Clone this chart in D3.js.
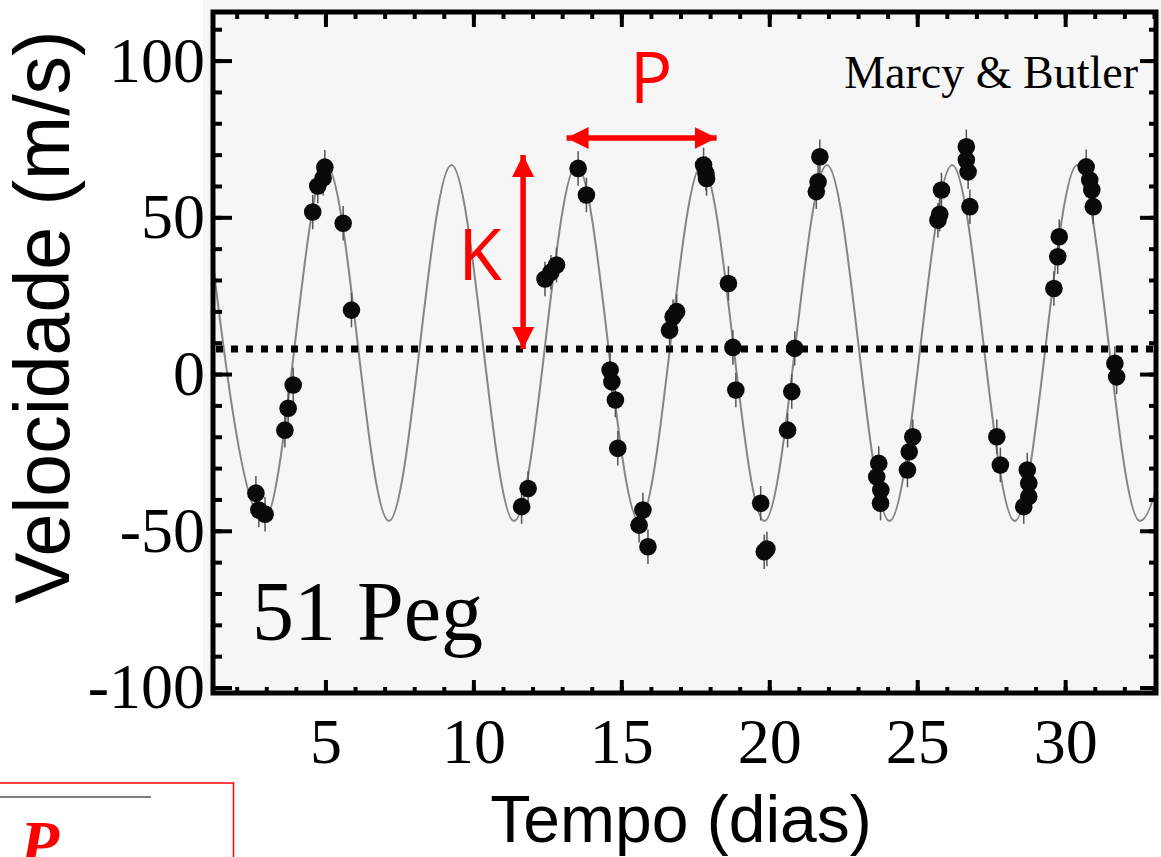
<!DOCTYPE html>
<html>
<head>
<meta charset="utf-8">
<script src="https://cdn.jsdelivr.net/npm/d3@7"></script>
<style>
  html, body { margin: 0; padding: 0; background: #fff; }
  svg { display: block; }
</style>
</head>
<body>
<svg width="1161" height="857"></svg>
<script>
var timeDays = [2.65, 2.75, 2.96, 3.63, 3.74, 3.91, 4.57, 4.74, 4.92, 4.98, 5.60, 5.88,
    11.63, 11.85, 12.42, 12.62, 12.81, 13.54, 13.82,
    14.62, 14.68, 14.80, 14.88, 15.60, 15.73, 15.90, 16.63, 16.75, 16.87,
    17.78, 17.86, 17.88, 18.62, 18.77, 18.87, 19.71, 19.83, 19.92,
    20.62, 20.76, 20.86, 21.59, 21.65, 21.71,
    23.63, 23.70, 23.77, 23.76, 24.67, 24.73, 24.85, 25.70, 25.76, 25.82,
    26.66, 26.66, 26.72, 26.78, 27.69, 27.81,
    28.60, 28.72, 28.77, 28.77, 29.62, 29.75, 29.80,
    30.71, 30.83, 30.90, 30.95, 31.68, 31.74];
var velocity = [-38, -43.4, -44.7, -17.9, -10.9, -3.5, 51.7, 60.0, 62.5, 66.0, 48.1, 20.4,
    -42.3, -36.5, 30.3, 32.5, 34.8, 65.6, 57.1,
    1.3, -2.5, -8.3, -23.7, -48.2, -43.4, -55.1, 14.0, 18.3, 19.9,
    66.7, 64.0, 62.4, 28.9, 8.5, -5.1, -41.2, -56.7, -55.8,
    -17.9, -5.6, 8.2, 58.2, 61.3, 69.3,
    -32.8, -28.5, -37.0, -41.2, -30.6, -24.8, -20.0, 49.1, 51.0, 58.7,
    72.5, 68.3, 64.5, 53.4, -20.0, -29.0,
    -42.3, -30.6, -34.8, -39.1, 27.3, 37.4, 43.8,
    66.1, 61.9, 58.7, 53.4, 3.4, -0.9];
var errVel = 5.5;

// orbit fit: maxima and minima of the drawn curve
var fitTime = [0.80, 2.915, 5.03, 7.145, 9.26, 11.375, 13.49, 15.605, 17.72,
    19.835, 21.95, 24.065, 26.18, 28.295, 30.41, 32.525, 34.64];
var fitVel = [66.7, -46.9, 66.7, -46.9, 66.7, -46.9, 66.7, -46.9, 66.7,
    -46.9, 66.7, -46.9, 66.7, -46.9, 66.7, -46.9, 66.7];
var gammaVel = 8;

var xMajorTicks = [5, 10, 15, 20, 25, 30];
var xMinorTicks = d3.range(2, 34, 1);
var yMajorTicks = [-100, -50, 0, 50, 100];
var yMinorTicks = d3.range(-100, 111, 10);

// annotation arrows K and P (data units)
var kArrow = {t: 11.68, v0: gammaVel, v1: 69.9};
var pArrow = {v: 75.3, t0: 13.15, t1: 18.22};

var svg = d3.select("svg");

var x = d3.scaleLinear().domain([1.2, 33.07]).range([213, 1156]);
var y = d3.scaleLinear().domain([-101.75, 115.5]).range([693, 12]);

var x0 = x.range()[0], x1 = x.range()[1],
    yTop = y.range()[1], yBot = y.range()[0];

svg.append("rect")
    .attr("x", 203).attr("y", 0)
    .attr("width", 958).attr("height", 700)
    .attr("fill", "#f6f6f6");

var defs = svg.append("defs");
defs.append("clipPath").attr("id", "plotclip")
    .append("rect")
    .attr("x", x0).attr("y", yTop)
    .attr("width", x1 - x0).attr("height", yBot - yTop);

defs.append("marker")
    .attr("id", "redhead")
    .attr("viewBox", "0 -5 10 10")
    .attr("refX", 10).attr("refY", 0)
    .attr("markerUnits", "userSpaceOnUse")
    .attr("markerWidth", 22).attr("markerHeight", 22)
    .attr("orient", "auto-start-reverse")
    .append("path")
    .attr("d", "M0,-5 L10,0 L0,5 Z")
    .attr("fill", "#ff0000");

// fitted curve
var fitLine = d3.line()
    .x(function(d) { return x(d[0]); })
    .y(function(d) { return y(d[1]); })
    .curve(d3.curveMonotoneX);

svg.append("path")
    .datum(fitTime.map(function(t, i) { return [t, fitVel[i]]; }))
    .attr("clip-path", "url(#plotclip)")
    .attr("d", fitLine)
    .attr("fill", "none")
    .attr("stroke", "#858585")
    .attr("stroke-width", 2);

// systemic velocity
svg.append("line")
    .attr("x1", x0 + 3).attr("x2", x1)
    .attr("y1", y(gammaVel)).attr("y2", y(gammaVel))
    .attr("stroke", "#000")
    .attr("stroke-width", 7)
    .attr("stroke-dasharray", "7,8");

var obs = timeDays.map(function(t, i) { return {t: t, v: velocity[i]}; });

svg.append("g")
    .selectAll("line")
    .data(obs)
    .enter()
        .append("line")
        .attr("x1", function(d) { return x(d.t); })
        .attr("x2", function(d) { return x(d.t); })
        .attr("y1", function(d) { return y(d.v + errVel); })
        .attr("y2", function(d) { return y(d.v - errVel); })
        .attr("stroke", "#555")
        .attr("stroke-width", 1.5);

svg.append("g")
    .selectAll("circle")
    .data(obs)
    .enter()
        .append("circle")
        .attr("cx", function(d) { return x(d.t); })
        .attr("cy", function(d) { return y(d.v); })
        .attr("r", 8.8)
        .attr("fill", "#0a0a0a");

// frame with inward ticks on all four sides
function innerTicks(axis, pos, values, size) {
    var g = svg.append("g")
        .attr("transform", pos)
        .call(axis.tickValues(values).tickSize(size).tickFormat(""));
    g.select(".domain").remove();
    g.selectAll(".tick line").attr("stroke", "#000").attr("stroke-width", 4);
}
innerTicks(d3.axisRight(y), "translate(" + x0 + ",0)", yMinorTicks, 9);
innerTicks(d3.axisRight(y), "translate(" + x0 + ",0)", yMajorTicks, 19);
innerTicks(d3.axisLeft(y), "translate(" + x1 + ",0)", yMinorTicks, 7);
innerTicks(d3.axisLeft(y), "translate(" + x1 + ",0)", yMajorTicks, 16);
innerTicks(d3.axisBottom(x), "translate(0," + yTop + ")", xMinorTicks, 7);
innerTicks(d3.axisBottom(x), "translate(0," + yTop + ")", xMajorTicks, 15);
innerTicks(d3.axisTop(x), "translate(0," + yBot + ")", xMinorTicks, 6);
innerTicks(d3.axisTop(x), "translate(0," + yBot + ")", xMajorTicks, 13);

svg.append("rect")
    .attr("x", x0).attr("y", yTop)
    .attr("width", x1 - x0).attr("height", yBot - yTop)
    .attr("fill", "none")
    .attr("stroke", "#000")
    .attr("stroke-width", 5);

// tick labels
var yLab = svg.append("g")
    .attr("transform", "translate(" + x0 + ",0)")
    .call(d3.axisLeft(y).tickValues(yMajorTicks).tickSize(0).tickPadding(8)
        .tickFormat(function(d) { return String(d); }));
yLab.select(".domain").remove();
yLab.selectAll("text")
    .attr("font-family", "'Liberation Serif', 'Times New Roman', serif")
    .attr("font-size", 64)
    .attr("fill", "#000");

var xLab = svg.append("g")
    .attr("transform", "translate(0," + yBot + ")")
    .call(d3.axisBottom(x).tickValues(xMajorTicks).tickSize(0).tickPadding(25)
        .tickFormat(function(d) { return String(d); }));
xLab.select(".domain").remove();
xLab.selectAll("text")
    .attr("font-family", "'Liberation Serif', 'Times New Roman', serif")
    .attr("font-size", 64)
    .attr("fill", "#000");

// axis titles
svg.append("text")
    .attr("transform", "translate(69,317) rotate(-90)")
    .attr("text-anchor", "middle")
    .attr("font-family", "'Liberation Sans', Arial, sans-serif")
    .attr("font-size", 77)
    .attr("fill", "#000")
    .text("Velocidade (m/s)");

svg.append("text")
    .attr("x", 681).attr("y", 842)
    .attr("text-anchor", "middle")
    .attr("font-family", "'Liberation Sans', Arial, sans-serif")
    .attr("font-size", 66)
    .attr("fill", "#000")
    .text("Tempo (dias)");

svg.append("text")
    .attr("x", 1138).attr("y", 88)
    .attr("text-anchor", "end")
    .attr("font-family", "'Liberation Serif', 'Times New Roman', serif")
    .attr("font-size", 46)
    .attr("fill", "#000")
    .text("Marcy & Butler");

svg.append("text")
    .attr("x", 252).attr("y", 640)
    .attr("font-family", "'Liberation Serif', 'Times New Roman', serif")
    .attr("font-size", 84)
    .attr("fill", "#000")
    .text("51 Peg");

// K and P annotations
svg.append("line")
    .attr("x1", x(kArrow.t)).attr("x2", x(kArrow.t))
    .attr("y1", y(kArrow.v0)).attr("y2", y(kArrow.v1))
    .attr("stroke", "#ff0000").attr("stroke-width", 5.5)
    .attr("marker-start", "url(#redhead)")
    .attr("marker-end", "url(#redhead)");

svg.append("line")
    .attr("x1", x(pArrow.t0)).attr("x2", x(pArrow.t1))
    .attr("y1", y(pArrow.v)).attr("y2", y(pArrow.v))
    .attr("stroke", "#ff0000").attr("stroke-width", 5.5)
    .attr("marker-start", "url(#redhead)")
    .attr("marker-end", "url(#redhead)");

svg.append("text")
    .attr("x", 651).attr("y", 103)
    .attr("text-anchor", "middle")
    .attr("font-family", "'Open Sans', 'Noto Sans', sans-serif")
    .attr("font-size", 71)
    .attr("fill", "#ff0000")
    .text("P");

svg.append("text")
    .attr("x", 480).attr("y", 280)
    .attr("text-anchor", "middle")
    .attr("font-family", "'Open Sans', 'Noto Sans', sans-serif")
    .attr("font-size", 71)
    .attr("fill", "#ff0000")
    .text("K");

// cut-off formula box in the lower left corner
svg.append("rect")
    .attr("x", -2).attr("y", 783)
    .attr("width", 235.5).attr("height", 80)
    .attr("fill", "#fff")
    .attr("stroke", "#ff0000")
    .attr("stroke-width", 1.5);

svg.append("line")
    .attr("x1", 0).attr("x2", 151)
    .attr("y1", 797).attr("y2", 797)
    .attr("stroke", "#555")
    .attr("stroke-width", 1.5);

svg.append("text")
    .attr("x", 20).attr("y", 865)
    .attr("font-family", "'Liberation Serif', 'Times New Roman', serif")
    .attr("font-weight", "bold")
    .attr("font-style", "italic")
    .attr("font-size", 64)
    .attr("fill", "#ff0000")
    .text("P");
</script>
</body>
</html>
